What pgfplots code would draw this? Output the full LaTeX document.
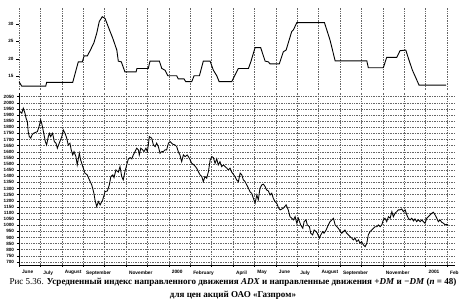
\documentclass[border=0pt]{standalone}
\usepackage{fontspec}
\setmainfont{Liberation Serif}
\newfontfamily\tickfont{Liberation Sans}
\usepackage{pgfplots}
\pgfplotsset{compat=1.18}
\begin{document}
\begin{tikzpicture}
\useasboundingbox (0pt,0pt) rectangle (464pt,305pt);
% ---------- top panel (ADX) ----------
\begin{axis}[
  at={(19pt,215pt)}, anchor=south west, scale only axis,
  width=436pt, height=82pt,
  xmin=0, xmax=20.37, ymin=11, ymax=34.6,
  axis line style={draw=none},
  xtick={0,...,20}, xticklabels={},
  x tick style={draw=none},
  xmajorgrids, grid style={dash pattern=on 0.6pt off 1.1pt, black!60, line width=0.4pt},
  ytick={15,20,25,30},
  tick pos=left, tick align=outside, major tick length=2.5pt,
  y tick style={black, line width=0.4pt},
  yticklabel style={font=\tickfont\bfseries\fontsize{4.6}{5}\selectfont, xshift=0.5pt},
  /pgf/number format/assume math mode=true,
]
\addplot[black, line width=0.9pt] coordinates {
(0,13.4) (0.13,12.1) (1.25,12.1) (1.29,13.2) (2.51,13.2) (2.77,19.1) (2.96,19.1)
(3.04,20.8) (3.19,20.8) (3.32,22.3) (3.5,24.6) (3.63,27.3) (3.75,30.7) (3.89,32.1)
(4.02,31.6) (4.17,29.2) (4.38,25.9) (4.57,22.5) (4.64,19.3) (4.78,19.1) (4.95,16.2)
(5.47,16.2) (5.51,17.2) (6.04,17.2) (6.12,19.3) (6.56,19.3) (6.67,17.2) (6.82,16.7)
(6.95,15.1) (7.37,15.1) (7.44,14.2) (7.71,14.2) (7.79,13.4) (8.07,13.4) (8.18,15.1)
(8.43,15.1) (8.61,19.3) (8.93,19.3) (9.08,16.7) (9.24,15.1) (9.35,13.4) (9.94,13.4)
(10.09,15.3) (10.25,17.2) (10.72,17.2) (10.83,19.1) (11.03,23.2) (11.29,23.2)
(11.5,19.3) (11.65,19.1) (11.73,18.5) (12.16,18.5) (12.35,22.0) (12.48,22.5)
(12.74,27.8) (12.82,28.3) (12.98,30.4) (14.27,30.4) (14.53,25.4) (14.77,19.4)
(16.25,19.4) (16.32,17.4) (17.02,17.4) (17.18,20.4) (17.65,20.4) (17.8,22.3)
(18.07,22.5) (18.22,19.6) (18.38,16.7) (18.54,14.5) (18.69,12.4) (19.95,12.4)
};
\end{axis}
% ---------- bottom panel (price) ----------
\begin{axis}[
  at={(19pt,40pt)}, anchor=south west, scale only axis,
  width=436pt, height=172pt,
  xmin=0, xmax=20.37, ymin=675, ymax=2080,
  axis lines=left, axis line style={-, black, line width=0.8pt},
  xtick={0,...,20},
  xticklabels={June,July,August,September,,November,,2000,February,,April,May,June,July,August,September,,November,,2001,Feb},
  ytick={700,750,...,2050},
  grid=major, grid style={dash pattern=on 0.6pt off 1.1pt, black!60, line width=0.4pt},
  tick align=outside, major tick length=2pt,
  tick style={black, line width=0.4pt},
  yticklabel style={font=\tickfont\bfseries\fontsize{4.6}{5}\selectfont, xshift=0.5pt},
  xticklabel style={font=\tickfont\bfseries\fontsize{4.8}{5}\selectfont, anchor=north west, xshift=-0.5pt},
  /pgf/number format/1000 sep={},
  /pgf/number format/assume math mode=true,
]
\addplot[black, line width=0.85pt] coordinates {
(0.05,1928) (0.13,1915) (0.20,1956) (0.28,1915) (0.33,1874) (0.39,1846) (0.43,1765)
(0.48,1724) (0.55,1711) (0.61,1738) (0.67,1751) (0.75,1756) (0.86,1765) (0.95,1814)
(1.01,1860) (1.06,1833) (1.11,1792) (1.17,1738) (1.23,1683) (1.29,1656) (1.37,1724)
(1.42,1751) (1.48,1724) (1.57,1751) (1.65,1683) (1.73,1670) (1.79,1629) (1.88,1670)
(2.00,1724) (2.07,1778) (2.15,1751) (2.23,1711) (2.30,1656) (2.38,1670) (2.44,1615)
(2.51,1574) (2.57,1601) (2.66,1560) (2.72,1492) (2.82,1588) (2.88,1533) (2.98,1479)
(3.08,1425) (3.19,1411) (3.29,1370) (3.40,1329) (3.50,1261) (3.55,1207) (3.63,1152)
(3.71,1193) (3.79,1166) (3.91,1207) (4.02,1274) (4.13,1280) (4.22,1329) (4.29,1397)
(4.38,1411) (4.44,1389) (4.53,1452) (4.64,1433) (4.72,1479) (4.80,1397) (4.87,1370)
(4.95,1438) (5.03,1492) (5.11,1542) (5.19,1552) (5.27,1542) (5.34,1574) (5.42,1601)
(5.50,1629) (5.58,1615) (5.62,1574) (5.69,1629) (5.78,1615) (5.84,1601) (5.93,1629)
(6.00,1601) (6.09,1724) (6.20,1711) (6.28,1656) (6.36,1642) (6.43,1670) (6.51,1642)
(6.59,1588) (6.67,1601) (6.74,1601) (6.82,1615) (6.90,1615) (6.98,1670) (7.06,1683)
(7.18,1662) (7.29,1656) (7.37,1642) (7.44,1601) (7.52,1574) (7.60,1519) (7.68,1574)
(7.76,1560) (7.86,1574) (7.96,1547) (8.07,1506) (8.18,1492) (8.30,1466) (8.38,1438)
(8.46,1411) (8.54,1397) (8.61,1356) (8.69,1397) (8.77,1384) (8.85,1438) (8.93,1533)
(9.01,1560) (9.08,1552) (9.16,1506) (9.24,1542) (9.31,1492) (9.39,1519) (9.47,1479)
(9.55,1492) (9.63,1479) (9.71,1466) (9.78,1452) (9.86,1466) (9.94,1433) (10.01,1417)
(10.09,1397) (10.17,1370) (10.25,1356) (10.33,1425) (10.41,1411) (10.48,1370)
(10.56,1356) (10.64,1329) (10.72,1302) (10.79,1274) (10.87,1261) (10.95,1220)
(11.03,1180) (11.11,1247) (11.18,1207) (11.26,1302) (11.34,1329) (11.42,1335)
(11.50,1315) (11.57,1288) (11.65,1280) (11.73,1247) (11.81,1261) (11.88,1220)
(11.96,1193) (12.04,1180) (12.12,1144) (12.20,1125) (12.35,1139) (12.48,1166)
(12.58,1125) (12.66,1070) (12.74,1057) (12.82,1043) (12.90,1070) (12.98,1016)
(13.05,1057) (13.16,1002) (13.26,975) (13.32,1029) (13.41,1043) (13.47,1002)
(13.57,988) (13.63,934) (13.72,921) (13.79,961) (13.88,948) (13.94,934) (14.03,894)
(14.10,921) (14.19,948) (14.25,934) (14.35,961) (14.45,1002) (14.53,1029) (14.61,1043)
(14.69,1057) (14.77,1002) (14.85,988) (14.92,975) (15.00,953) (15.08,934) (15.16,948)
(15.23,961) (15.31,934) (15.39,921) (15.47,907) (15.55,894) (15.62,880) (15.70,894)
(15.78,866) (15.86,880) (15.93,853) (16.01,866) (16.09,839) (16.17,825) (16.25,853)
(16.32,921) (16.40,948) (16.48,961) (16.56,975) (16.64,988) (16.72,988) (16.79,1002)
(16.87,988) (16.95,1002) (17.02,1043) (17.10,1057) (17.18,1029) (17.26,1070)
(17.34,1057) (17.42,1111) (17.49,1070) (17.57,1098) (17.65,1111) (17.72,1125)
(17.80,1125) (17.88,1133) (17.96,1111) (18.04,1125) (18.12,1084) (18.19,1057)
(18.27,1043) (18.35,1057) (18.43,1035) (18.50,1051) (18.58,1029) (18.66,1043)
(18.74,1029) (18.82,1043) (18.89,1029) (18.97,1016) (19.05,1057) (19.13,1070)
(19.21,1084) (19.29,1098) (19.36,1106) (19.44,1084) (19.52,1057) (19.59,1029)
(19.67,1043) (19.75,1024) (19.83,1016) (19.91,1002) (19.99,1008) (20.06,997)
};
\end{axis}
\node[font=\fontsize{9.05}{12.8}\selectfont\bfseries, align=center] at (233pt,16pt)
{{\mdseries Рис 5.36.} Усредненный индекс направленного движения \textit{ADX} и направленные движения \textit{+DM} и \textit{−DM} (\textit{n} = 48)\\
для цен акций ОАО «Газпром»};
\end{tikzpicture}
\end{document}
